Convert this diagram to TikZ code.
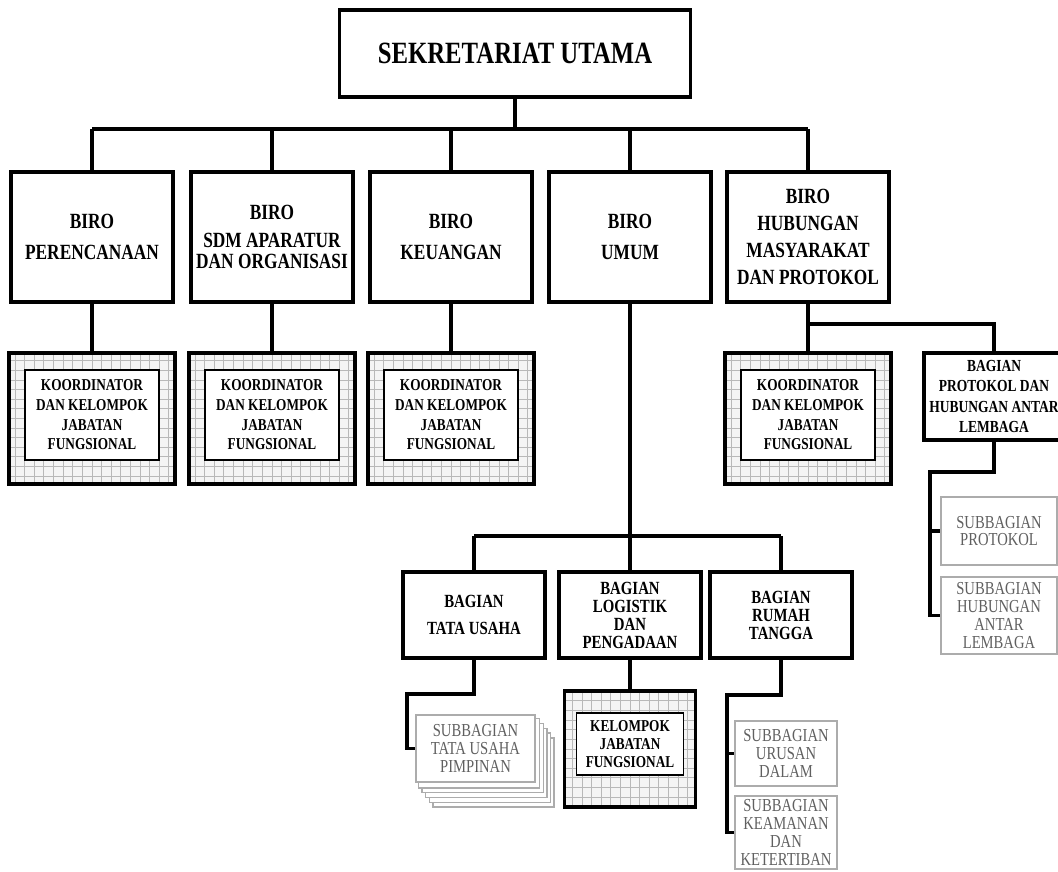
\documentclass[tikz,border=0pt]{standalone}
\usepackage{fontspec}
\newfontfamily\orgfont[FakeStretch=0.8]{Liberation Serif}
\usetikzlibrary{backgrounds}

\begin{document}
\begin{tikzpicture}
  [x=0.025cm, y=-0.025cm,
   conn/.style={line width=2.2pt},
   unitbox/.style={draw, line width=2.2pt, fill=white, align=center, inner sep=1pt},
   mainbox/.style={unitbox, minimum width=8.775cm, minimum height=2.175cm, font=\orgfont\bfseries\fontsize{22}{24}\selectfont},
   birobox/.style={unitbox, minimum width=4.05cm, minimum height=3.25cm, font=\orgfont\bfseries\fontsize{15.4}{14}\selectfont},
   hatch/.style={draw, line width=2.4pt, fill=gray!8,
     path picture={\draw[gray!55, line width=0.7pt, step=0.24cm] (path picture bounding box.south west) grid (path picture bounding box.north east);}},
   koordbox/.style={hatch, minimum width=4.15cm, minimum height=3.275cm},
   inbox/.style={draw, line width=1.2pt, fill=white, align=center, inner sep=1pt, minimum width=3.35cm, minimum height=2.25cm, font=\orgfont\bfseries\fontsize{11.8}{14}\selectfont},
   bagianbox/.style={unitbox, minimum width=3.55cm, minimum height=2.15cm, font=\orgfont\bfseries\fontsize{13.2}{12.8}\selectfont},
   subbox/.style={draw=gray!65, line width=1.5pt, fill=white, text=gray!75!black, align=center, inner sep=1pt, font=\orgfont\fontsize{13}{12.6}\selectfont}]
  \useasboundingbox (0,0) rectangle (1058,872);

  \node[mainbox] (sekut) at (515,53.5) {SEKRETARIAT UTAMA};

  \node[birobox] (perenc) at (92,237) {BIRO\\[8pt]PERENCANAAN};
  \node[birobox] (sdm) at (272,237) {BIRO\\[5.5pt]SDM APARATUR\\[1pt]DAN ORGANISASI};
  \node[birobox] (keu) at (451,237) {BIRO\\[8pt]KEUANGAN};
  \node[birobox] (umum) at (630,237) {BIRO\\[8pt]UMUM};
  \node[birobox] (humas) at (808,237) {BIRO\\[5pt]HUBUNGAN\\[5pt]MASYARAKAT\\[5pt]DAN PROTOKOL};

  \coordinate (hbar) at (0,129);
  \draw[conn] (sekut.south) -- (sekut.south |- hbar);
  \draw[conn] (perenc.north |- hbar) -- (humas.north |- hbar);
  \foreach \b in {perenc,sdm,keu,umum,humas}
    \draw[conn] (\b.north) -- (\b.north |- hbar);

  % koordinator dan kelompok jabatan fungsional
  \foreach \b/\x in {perenc/92,sdm/272,keu/451,humas/808} {
    \node[koordbox] (k\b) at (\x,418.5) {};
    \node[inbox] (k\b-in) at (\x,415) {KOORDINATOR\\DAN KELOMPOK\\JABATAN\\FUNGSIONAL};
    \draw[conn] (\b.south) -- (k\b.north);
  }

  \node[bagianbox, minimum width=3.5cm, minimum height=2.175cm, font=\orgfont\bfseries\fontsize{12}{14.4}\selectfont]
    (protokol) at (994,396.5) {BAGIAN\\PROTOKOL DAN\\HUBUNGAN ANTAR\\LEMBAGA};
  \coordinate (hmbranch) at (0,324);
  \draw[conn] (humas.south |- hmbranch) -| (protokol.north);

  \node[subbox, minimum width=2.9cm, minimum height=1.7cm] (subprot) at (999,531) {SUBBAGIAN\\PROTOKOL};
  \node[subbox, minimum width=2.9cm, minimum height=1.925cm] (subhub) at (999,615.5) {SUBBAGIAN\\HUBUNGAN\\ANTAR\\LEMBAGA};
  \coordinate (pbranch) at (930,472);
  \draw[conn] (protokol.south) |- (pbranch) |- (subhub.west);
  \draw[conn] (pbranch |- subprot.west) -- (subprot.west);

  % biro umum
  \node[bagianbox] (tu) at (474,615) {BAGIAN\\[7pt]TATA USAHA};
  \node[bagianbox] (logistik) at (630,615) {BAGIAN\\LOGISTIK\\DAN\\PENGADAAN};
  \node[bagianbox] (rt) at (781,615) {BAGIAN\\RUMAH\\TANGGA};
  \coordinate (ubar) at (0,536);
  \draw[conn] (umum.south) -- (logistik.north);
  \draw[conn] (tu.north |- ubar) -- (rt.north |- ubar);
  \draw[conn] (tu.north) -- (tu.north |- ubar);
  \draw[conn] (rt.north) -- (rt.north |- ubar);

  \node[subbox, minimum width=2.975cm, minimum height=1.675cm] (tup) at (475.5,748.5) {SUBBAGIAN\\TATA USAHA\\PIMPINAN};
  \begin{scope}[on background layer]
    \foreach \k in {5,4,3,2,1}
      \draw[gray!65, line width=1pt, fill=white] ([shift={(3.6*\k,4.8*\k)}]tup.south west) rectangle ([shift={(3.6*\k,4.8*\k)}]tup.north east);
  \end{scope}
  \coordinate (tubranch) at (407,694);
  \draw[conn] (tu.south) |- (tubranch) |- (tup.west);

  \node[hatch, minimum width=3.275cm, minimum height=2.9cm] (klog) at (630,749) {};
  \node[inbox, minimum width=2.675cm, minimum height=1.55cm, font=\orgfont\bfseries\fontsize{11.8}{13}\selectfont] (klog-in) at (630,744) {KELOMPOK\\JABATAN\\FUNGSIONAL};
  \draw[conn] (logistik.south) -- (klog.north);

  \node[subbox, minimum width=2.55cm, minimum height=1.625cm] (subur) at (786,753.5) {SUBBAGIAN\\URUSAN\\DALAM};
  \node[subbox, minimum width=2.55cm, minimum height=1.825cm] (subkeam) at (786,832.5) {SUBBAGIAN\\KEAMANAN\\DAN\\KETERTIBAN};
  \coordinate (rtbranch) at (727,695);
  \draw[conn] (rt.south) |- (rtbranch) |- (subkeam.west);
  \draw[conn] (rtbranch |- subur.west) -- (subur.west);
\end{tikzpicture}
\end{document}
